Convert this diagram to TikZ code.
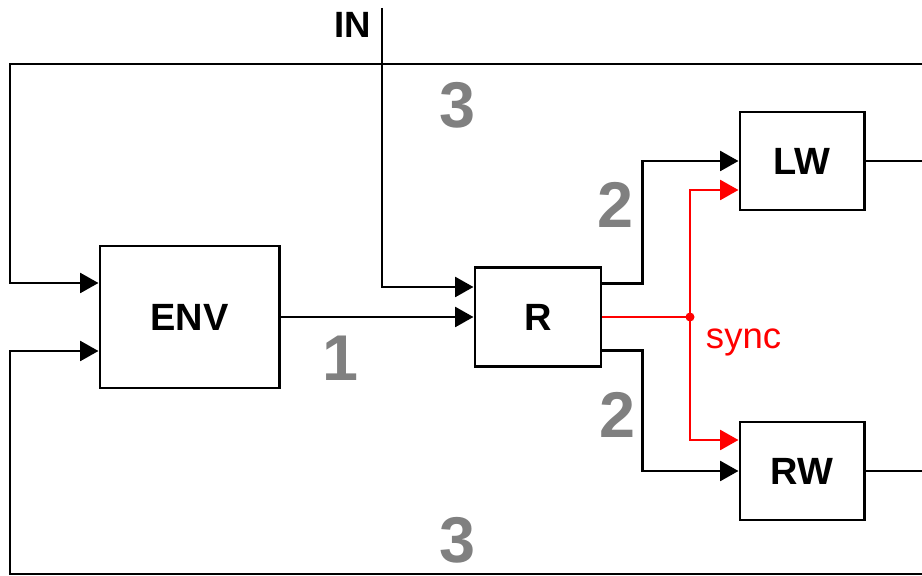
\documentclass[tikz,border=0pt]{standalone}
\usepackage{fontspec}
\setmainfont{Liberation Sans}
\usetikzlibrary{arrows.meta,calc}
\definecolor{numgray}{RGB}{128,128,128}
\definecolor{syncred}{RGB}{255,0,0}

\begin{document}
\begin{tikzpicture}[x=0.025cm, y=-0.025cm,
  blk/.style={rectangle, draw, line width=2.1pt, inner sep=0pt,
              font=\fontsize{27}{27}\selectfont\bfseries},
  arr/.style={-{Triangle[length=13pt, width=14pt]}, line width=2.1pt},
  wire/.style={line width=2.1pt},
  num/.style={text=numgray, font=\fontsize{46}{46}\selectfont\bfseries},
  syn/.style={syncred, line width=2.1pt}
]
  \useasboundingbox (0,0) rectangle (922,576);

  % Bloecke
  \node[blk, minimum width=4.475cm, minimum height=3.55cm] (env) at (189.5,317) {ENV};
  \node[blk, minimum width=3.15cm, minimum height=2.475cm] (r) at (538,317) {R};
  \node[blk, minimum width=3.1cm, minimum height=2.45cm] (lw) at (802,161) {LW};
  \node[blk, minimum width=3.1cm, minimum height=2.45cm] (rw) at (802,471) {RW};

  % Eingang
  \coordinate (in) at (382,8);
  \node[anchor=east, font=\fontsize{26}{26}\selectfont\bfseries] (inlbl) at (376,25) {IN};
  \draw[arr] (in) |- ($(r.west)+(0,-30)$);

  % Rueckfuehrung
  \coordinate (topr) at (922,64);
  \coordinate (topl) at (10,64);
  \coordinate (botr) at (922,574);
  \coordinate (botl) at (10,574);
  \draw[arr] (topr) -- (topl) |- ($(env.west)+(0,-34)$);
  \draw[arr] (botr) -- (botl) |- ($(env.west)+(0,34)$);

  % ENV -> R
  \draw[arr] (env.east) -- (r.west);

  % R -> LW / RW
  \draw[arr] ($(r.east)+(0,-33.5)$) -- ++(40,0) |- (lw.west);
  \draw[arr] ($(r.east)+(0,33.5)$) -- ++(40,0) |- (rw.west);

  % Ausgaenge
  \coordinate (lwout) at (922,161);
  \coordinate (rwout) at (922,471);
  \draw[wire] (lw.east) -- (lwout);
  \draw[wire] (rw.east) -- (rwout);

  % sync
  \coordinate (sync) at (690,317);
  \draw[syn] (r.east) -- (sync);
  \draw[syn, arr] (sync) |- ($(lw.west)+(0,29)$);
  \draw[syn, arr] (sync) |- ($(rw.west)+(0,-31)$);
  \fill[syncred] (sync) circle (4.5);
  \node[anchor=west, text=syncred, font=\fontsize{26}{26}\selectfont] (synclbl) at (701,342) {sync};

  % Nummern
  \foreach \i/\x/\y/\t in {1/457/105/3, 2/615/205/2, 3/340/358/1, 4/617/415/2, 5/457/540/3} {
    \node[num] (n\i) at (\x,\y) {\t};
  }
\end{tikzpicture}
\end{document}
